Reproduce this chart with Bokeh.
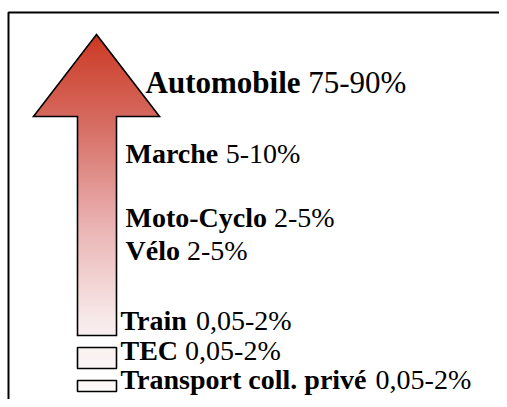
import numpy as np
from bokeh.plotting import figure
from bokeh.models import Range1d
from bokeh.core.properties import value
from bokeh.embed import file_html
from bokeh.resources import INLINE

# ---- data ----
modes = ["Automobile", "Marche", "Moto-Cyclo", "Vélo", "Train", "TEC", "Transport coll. privé"]
shares = ["75-90%", "5-10%", "2-5%", "2-5%", "0,05-2%", "0,05-2%", "0,05-2%"]

# ---- layout (pixel positions inside the plot frame) ----
label_x = [145, 125, 125, 125, 120, 120, 120]
label_y = [82, 153, 217, 250, 320, 350, 379]
label_px = [31, 28, 28, 28, 28, 28, 28]

W, H = 499, 399
FONT = "Liberation Serif"

# Times bold advance widths (1/1000 em) for measuring the bold part
BOLD_W = {" ": 250, "A": 722, "C": 722, "E": 667, "M": 944, "T": 667, "V": 722,
          "a": 500, "b": 556, "c": 444, "e": 444, "é": 444, "h": 556, "i": 278,
          "l": 278, "m": 833, "n": 556, "o": 500, "p": 556, "r": 444, "s": 389,
          "t": 333, "u": 556, "v": 500, "y": 500, "-": 333, ".": 250}


def bold_width(s, px):
    return sum(BOLD_W.get(ch, 500) for ch in s) * px / 1000.0


p = figure(width=W, height=H, x_range=Range1d(0, W), y_range=Range1d(H, 0),
           x_axis_type=None, y_axis_type=None, output_backend="svg",
           toolbar_location=None, min_border=0)
p.grid.visible = False
p.outline_line_color = None
p.background_fill_color = "white"

# frame lines (top and left)
p.line([8, 8, W], [H, 12, 12], line_color="black", line_width=2)

# arrow geometry
tip = (96, 34)
head_y = 116
head_l, head_r = 33, 159
sh_l, sh_r = 77, 116
sh_b = 335
rects = [(347, 368), (380, 391)]

# gradient stops (y, rgb)
stops_y = [34, 46, 126, 226, 321, 391]
stops_c = [(200, 52, 30), (205, 65, 45), (215, 110, 100), (235, 180, 180),
           (248, 235, 235), (253, 250, 250)]

x0, y0 = 28, 28
IW, IH = 140, 366
img = np.zeros((IH, IW), dtype=np.uint32)
view = img.view(dtype=np.uint8).reshape((IH, IW, 4))
sy = np.array(stops_y, float)
cr = np.array([c[0] for c in stops_c], float)
cg = np.array([c[1] for c in stops_c], float)
cb = np.array([c[2] for c in stops_c], float)
for i in range(IH):
    yy = y0 + i + 0.5
    r = np.interp(yy, sy, cr)
    g = np.interp(yy, sy, cg)
    b = np.interp(yy, sy, cb)
    for j in range(IW):
        xx = x0 + j + 0.5
        inside = False
        if tip[1] <= yy <= head_y:
            f = (yy - tip[1]) / (head_y - tip[1])
            if tip[0] - f * (tip[0] - head_l) <= xx <= tip[0] + f * (head_r - tip[0]):
                inside = True
        elif head_y < yy <= sh_b and sh_l <= xx <= sh_r:
            inside = True
        else:
            for (ra, rb) in rects:
                if ra <= yy <= rb and sh_l <= xx <= sh_r:
                    inside = True
        if inside:
            view[i, j] = (int(r), int(g), int(b), 255)

p.image_rgba(image=[img], x=x0, y=y0, dw=IW, dh=IH)

# outlines
p.patch([tip[0], head_r, sh_r, sh_r, sh_l, sh_l, head_l],
        [tip[1], head_y, head_y, sh_b, sh_b, head_y, head_y],
        fill_color=None, line_color="black", line_width=1.6, line_join="miter")
for (ra, rb) in rects:
    p.quad(left=[sh_l], right=[sh_r], top=[ra], bottom=[rb],
           fill_color=None, line_color="black", line_width=1.6)

# labels
for m, s, lx, ly, px in zip(modes, shares, label_x, label_y, label_px):
    p.text(x=[lx], y=[ly], text=[m], text_font=value(FONT), text_font_style="bold",
           text_font_size=f"{px}px", text_baseline="alphabetic", text_align="left",
           text_color="black")
    p.text(x=[lx + bold_width(m + " ", px)], y=[ly], text=[s], text_font=value(FONT),
           text_font_style="normal", text_font_size=f"{px}px",
           text_baseline="alphabetic", text_align="left", text_color="black")

open("out.html", "w").write(file_html(p, INLINE))
